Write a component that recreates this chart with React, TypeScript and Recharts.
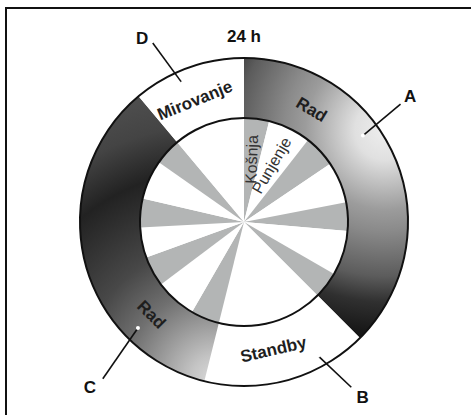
import React from "react";
import { PieChart, Pie, Cell } from "recharts";

const W = 471;
const H = 415;
const CX = 244;
const CY = 222;
const R_IN = 104;
const R_OUT = 164;
const FONT = "'Liberation Sans', Arial, sans-serif";

// outer ring: operating phases over 24 h (minutes)
const phaseNames = ["Rad", "Standby", "Rad", "Mirovanje"];
const phaseMinutes = [540, 236, 504, 160];
const phaseLetters = ["A", "B", "C", "D"];

// inner disc: mowing / charging cycles (minutes)
const cycleKinds = [
  "mow", "charge", "mow", "charge", "mow", "charge", "mow", "off",
  "mow", "charge", "mow", "charge", "mow", "charge", "mow", "off",
];
const cycleMinutes = [56, 96, 72, 92, 64, 100, 60, 236, 64, 92, 68, 68, 64, 88, 60, 160];
const cycleLabels: Record<string, string> = { mow: "Košnja", charge: "Punjenje" };

const phaseData = phaseNames.map((name, i) => ({
  name,
  value: phaseMinutes[i],
  letter: phaseLetters[i],
}));
const cycleData = cycleKinds.map((kind, i) => ({ kind, value: cycleMinutes[i] }));

// angles are clockwise from 12 o'clock
const TEXT_ANGLE = [31, 167, 225, 338];
const CALLOUT = [
  { a0: 54, r0: 147, a1: 53, r1: 196, la: 53, lr: 208 },
  { a0: 151, r0: 153, a1: 147, r1: 197, la: 146, lr: 212 },
  { a0: 225, r0: 150, a1: 222, r1: 211, la: 223, lr: 226 },
  { a0: 336, r0: 152, a1: 333, r1: 201, la: 331, lr: 210 },
];

const polar = (cx: number, cy: number, r: number, deg: number) => {
  const t = (deg * Math.PI) / 180;
  return [cx + r * Math.sin(t), cy - r * Math.cos(t)];
};

const phaseFill = ["url(#gradA)", "#ffffff", "url(#gradC)", "#ffffff"];

const renderPhaseLabel = (props: any) => {
  const { cx, cy, index } = props;
  const th = TEXT_ANGLE[index];
  const [tx, ty] = polar(cx, cy, 131, th);
  const rot = th <= 90 ? th : th < 270 ? th - 180 : th - 360;
  const c = CALLOUT[index];
  const [x0, y0] = polar(cx, cy, c.r0, c.a0);
  const [x1, y1] = polar(cx, cy, c.r1, c.a1);
  const [lx, ly] = polar(cx, cy, c.lr, c.la);
  return (
    <g key={`pl-${index}`}>
      <text
        x={tx}
        y={ty}
        transform={`rotate(${rot} ${tx} ${ty})`}
        textAnchor="middle"
        dominantBaseline="central"
        fontFamily={FONT}
        fontWeight="bold"
        fontSize={17}
        fill="#1e1e1e"
      >
        {phaseNames[index]}
      </text>
      <line x1={x0} y1={y0} x2={x1} y2={y1} stroke="#111" strokeWidth={1.6} />
      <circle cx={x0} cy={y0} r={2} fill="#fff" />
      <text
        x={lx}
        y={ly}
        textAnchor="middle"
        dominantBaseline="central"
        fontFamily={FONT}
        fontWeight="bold"
        fontSize={17}
        fill="#111"
      >
        {phaseLetters[index]}
      </text>
    </g>
  );
};

const renderCycleLabel = (props: any) => {
  const { cx, cy, midAngle, index } = props;
  if (index > 1) return <g key={`cl-${index}`} />;
  const th = 90 - midAngle;
  const [tx, ty] = polar(cx, cy, 63, th);
  const rot = index === 0 ? -88 : th - 86;
  return (
    <text
      key={`cl-${index}`}
      x={tx}
      y={ty}
      transform={`rotate(${rot} ${tx} ${ty})`}
      textAnchor="middle"
      dominantBaseline="central"
      fontFamily={FONT}
      fontSize={16}
      fill="#333"
    >
      {cycleLabels[cycleKinds[index]]}
    </text>
  );
};

export default function App() {
  return (
    <div style={{ position: "absolute", left: 0, top: 0, width: W, height: H, background: "#fff" }}>
      <div
        style={{
          position: "absolute",
          left: 5,
          top: 7,
          right: 0,
          bottom: 0,
          borderTop: "2px solid #111",
          borderLeft: "2px solid #111",
        }}
      />
      <div
        style={{
          position: "absolute",
          left: CX - 40,
          width: 80,
          top: 27,
          textAlign: "center",
          fontFamily: FONT,
          fontWeight: "bold",
          fontSize: 17,
          color: "#111",
        }}
      >
        24 h
      </div>
      <div style={{ position: "absolute", left: 0, top: 0 }}>
        <PieChart width={W} height={H} margin={{ top: 0, right: 0, bottom: 0, left: 0 }}>
          <defs>
            <radialGradient
              id="gradA"
              gradientUnits="userSpaceOnUse"
              cx={CX + 141}
              cy={CY - 92}
              r={215}
            >
              <stop offset="0" stopColor="#eeeeee" />
              <stop offset="0.14" stopColor="#e0e0e0" />
              <stop offset="0.37" stopColor="#9c9c9c" />
              <stop offset="0.47" stopColor="#8a8a8a" />
              <stop offset="0.68" stopColor="#5c5c5c" />
              <stop offset="0.8" stopColor="#303030" />
              <stop offset="0.95" stopColor="#161616" />
              <stop offset="1" stopColor="#131313" />
            </radialGradient>
            <radialGradient
              id="gradC"
              gradientUnits="userSpaceOnUse"
              cx={CX - 29}
              cy={CY + 158}
              r={300}
            >
              <stop offset="0" stopColor="#dadada" />
              <stop offset="0.08" stopColor="#c4c4c4" />
              <stop offset="0.3" stopColor="#707070" />
              <stop offset="0.45" stopColor="#484848" />
              <stop offset="0.6" stopColor="#313131" />
              <stop offset="0.7" stopColor="#222222" />
              <stop offset="0.85" stopColor="#444444" />
              <stop offset="1" stopColor="#505050" />
            </radialGradient>
          </defs>
          <Pie
            data={cycleData}
            dataKey="value"
            cx={CX}
            cy={CY}
            innerRadius={0}
            outerRadius={R_IN}
            startAngle={90}
            endAngle={-270}
            stroke="none"
            label={renderCycleLabel}
            labelLine={false}
            isAnimationActive={false}
          >
            {cycleData.map((d, i) => (
              <Cell key={`c-${i}`} fill={d.kind === "mow" ? "#b3b5b5" : "#ffffff"} />
            ))}
          </Pie>
          <Pie
            data={phaseData}
            dataKey="value"
            cx={CX}
            cy={CY}
            innerRadius={R_IN}
            outerRadius={R_OUT}
            startAngle={90}
            endAngle={-270}
            stroke="none"
            label={renderPhaseLabel}
            labelLine={false}
            isAnimationActive={false}
          >
            {phaseData.map((_, i) => (
              <Cell key={`p-${i}`} fill={phaseFill[i]} />
            ))}
          </Pie>
          <Pie
            data={[{ value: 1 }]}
            dataKey="value"
            cx={CX}
            cy={CY}
            innerRadius={R_OUT}
            outerRadius={R_OUT}
            startAngle={90}
            endAngle={-270}
            fill="none"
            stroke="#111"
            strokeWidth={2}
            isAnimationActive={false}
          />
          <Pie
            data={[{ value: 1 }]}
            dataKey="value"
            cx={CX}
            cy={CY}
            innerRadius={R_IN}
            outerRadius={R_IN}
            startAngle={90}
            endAngle={-270}
            fill="none"
            stroke="#111"
            strokeWidth={2}
            isAnimationActive={false}
          />
        </PieChart>
      </div>
    </div>
  );
}
